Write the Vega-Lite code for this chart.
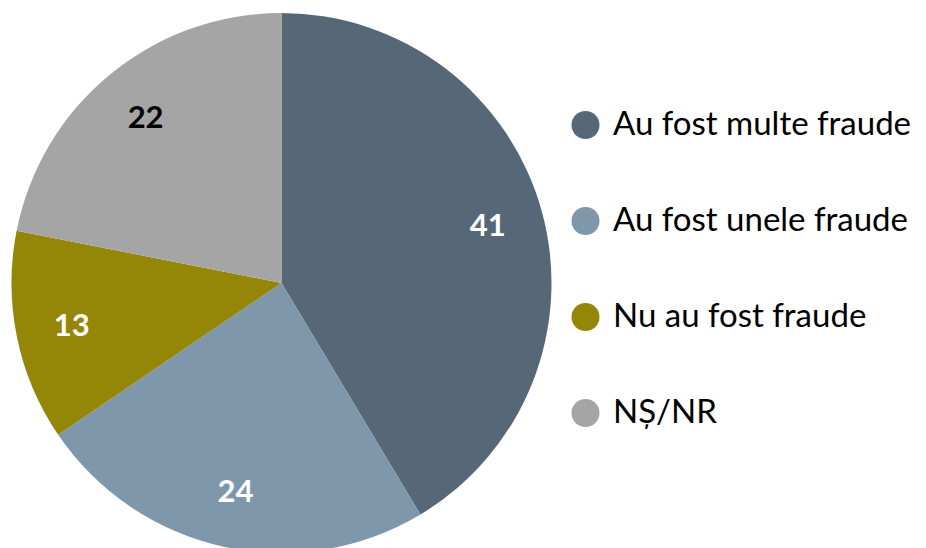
{
  "$schema": "https://vega.github.io/schema/vega-lite/v6.json",
  "width": 563,
  "height": 566,
  "padding": 0,
  "autosize": {"type": "pad"},
  "background": "white",
  "data": {"values": [
    {"category": "Au fost multe fraude", "share": 41.4, "value": 41, "order": 1},
    {"category": "Au fost unele fraude", "share": 24.1, "value": 24, "order": 2},
    {"category": "Nu au fost fraude", "share": 12.6, "value": 13, "order": 3},
    {"category": "NȘ/NR", "share": 21.9, "value": 22, "order": 4}
  ]},
  "encoding": {
    "theta": {"field": "share", "type": "quantitative", "stack": true},
    "order": {"field": "order", "type": "quantitative"},
    "color": {
      "field": "category", "type": "nominal",
      "sort": ["Au fost multe fraude", "Au fost unele fraude", "Nu au fost fraude", "NȘ/NR"],
      "scale": {"domain": ["Au fost multe fraude", "Au fost unele fraude", "Nu au fost fraude", "NȘ/NR"], "range": ["#566878", "#7f97aa", "#948607", "#a5a5a5"]},
      "legend": {
        "orient": "none", "legendX": 569, "legendY": 108.5, "title": null,
        "symbolType": "circle", "symbolSize": 784, "symbolStrokeWidth": 0,
        "labelFont": "Lato", "labelFontSize": 33, "labelColor": "#000000",
        "labelOffset": 11, "rowPadding": 62, "padding": 0, "labelLimit": 400
      }
    }
  },
  "layer": [
    {"mark": {"type": "arc", "outerRadius": 270}},
    {"mark": {"type": "text", "radius": 214, "font": "Lato", "fontWeight": "bold", "fontSize": 31, "baseline": "middle", "align": "center", "dy": 1},
     "encoding": {
       "text": {"field": "value", "type": "quantitative"},
       "color": {"condition": {"test": "datum.category === 'NȘ/NR'", "value": "#000000"}, "value": "#ffffff"}
     }}
  ],
  "config": {"view": {"stroke": null}}
}
